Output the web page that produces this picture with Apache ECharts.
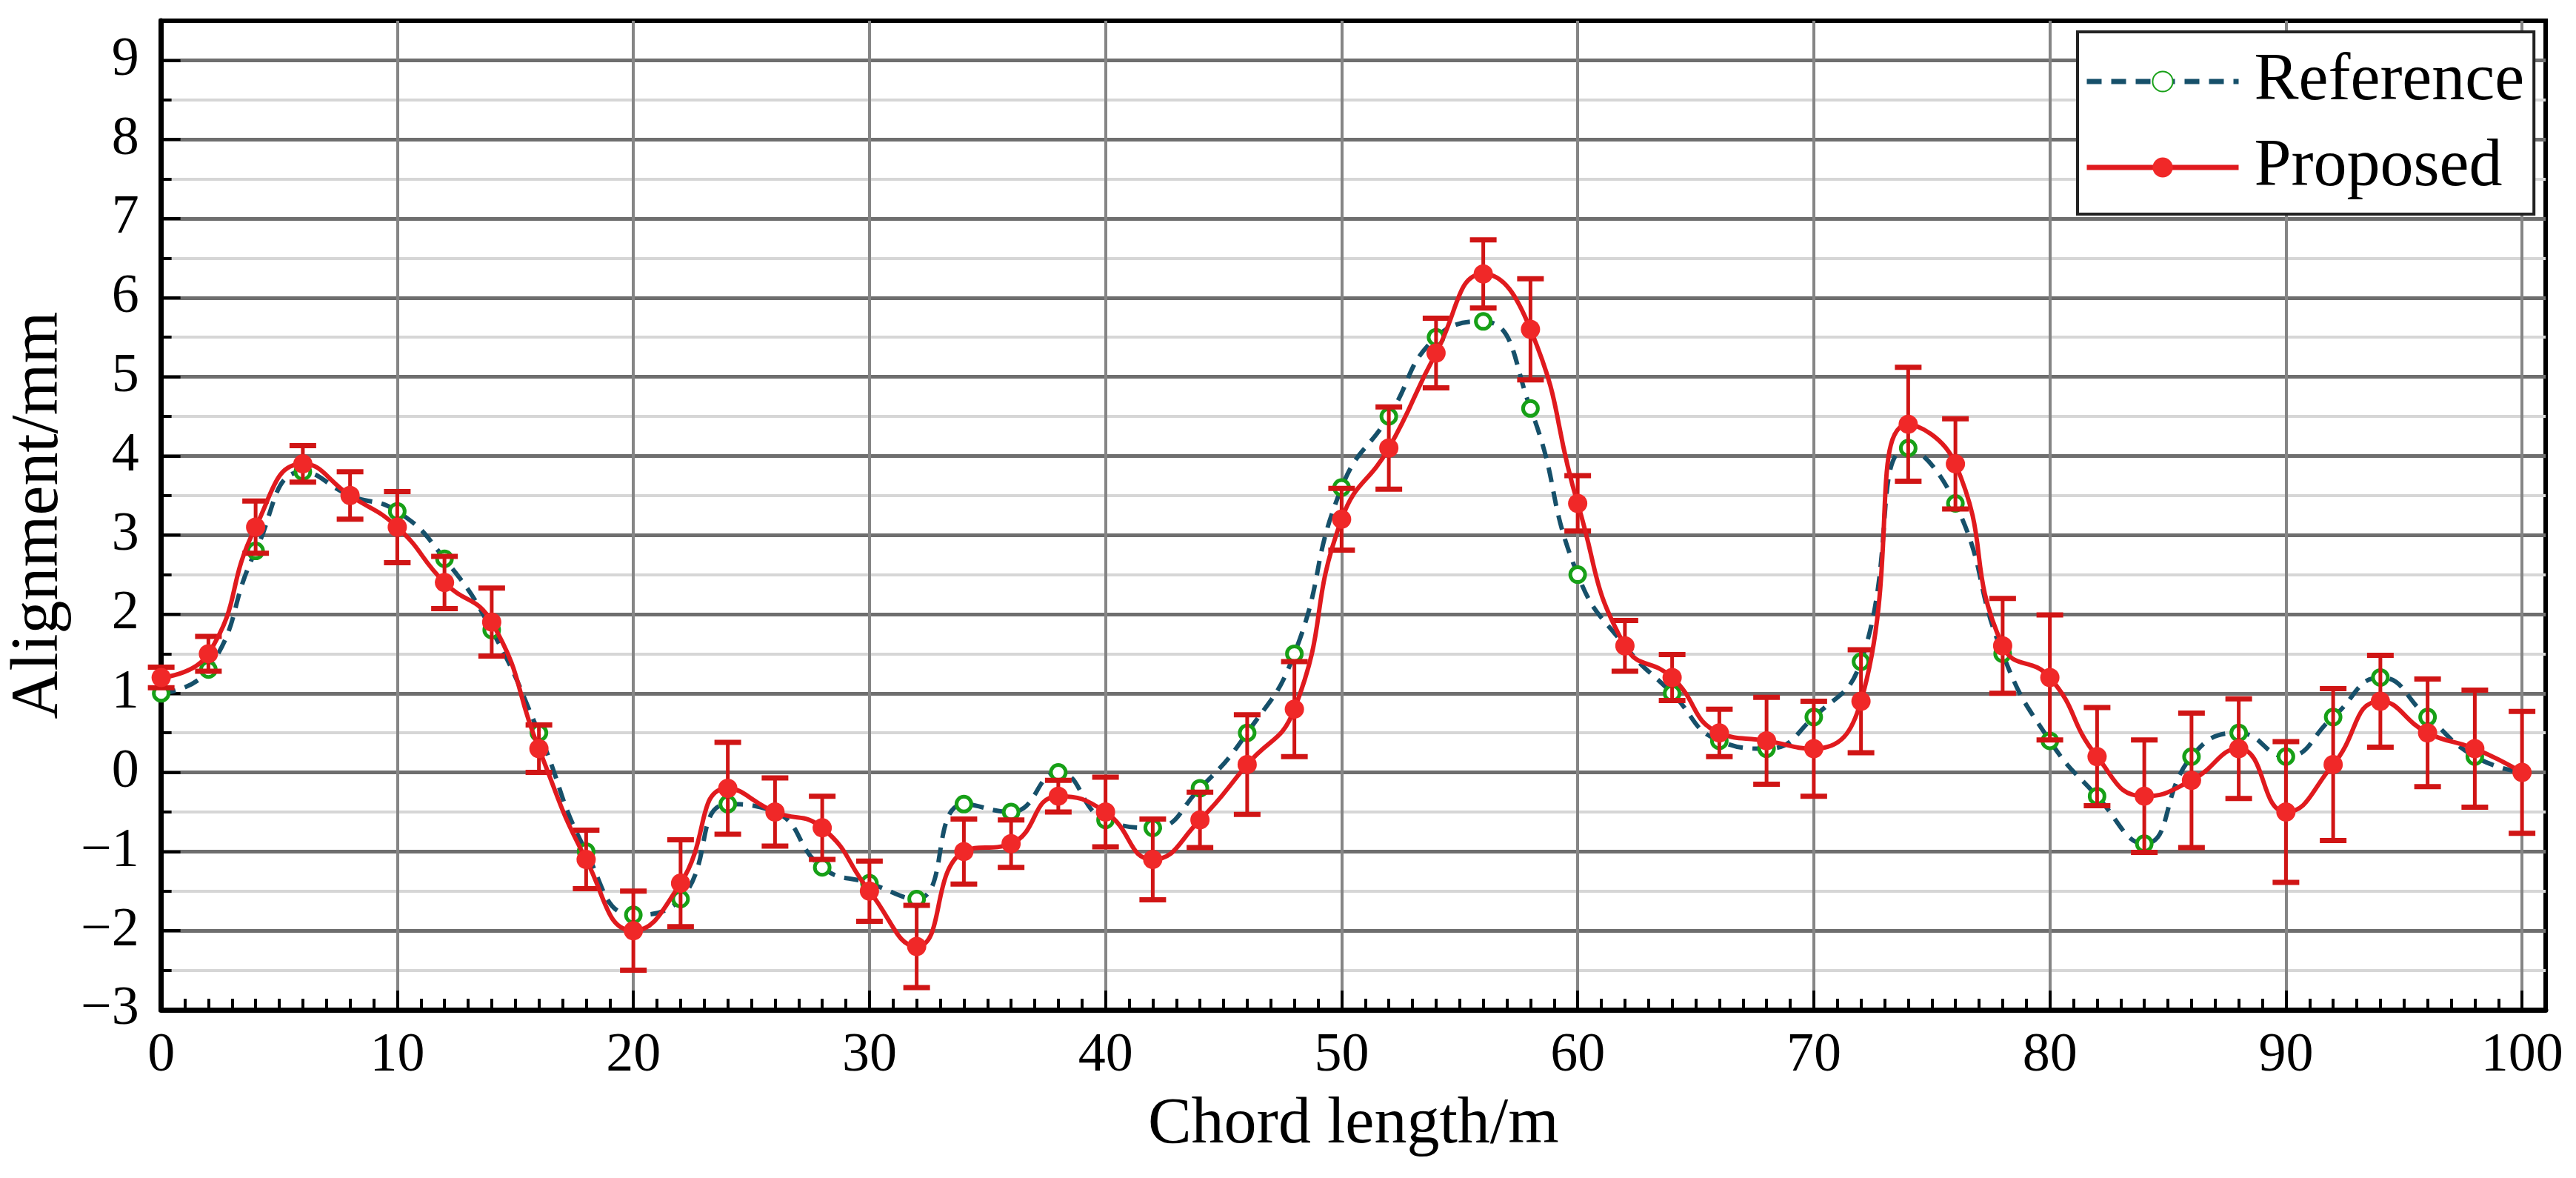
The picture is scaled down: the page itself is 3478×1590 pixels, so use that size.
<!DOCTYPE html>
<html>
<head>
<meta charset="utf-8">
<script src="https://cdn.jsdelivr.net/npm/echarts@6/dist/echarts.min.js"></script>
<style>
  html, body { margin: 0; padding: 0; background: #fff; }
  #chart { width: 3478px; height: 1590px; }
</style>
</head>
<body>
<div id="chart"></div>
<script>
// chord positions (m)
const chordLength = [0, 2, 4, 6, 8, 10, 12, 14, 16, 18, 20, 22, 24, 26, 28, 30, 32, 34, 36, 38, 40,
  42, 44, 46, 48, 50, 52, 54, 56, 58, 60, 62, 64, 66, 68, 70, 72, 74, 76, 78, 80,
  82, 84, 86, 88, 90, 92, 94, 96, 98, 100];

const referenceValues = [1.0, 1.3, 2.8, 3.8, 3.5, 3.3, 2.7, 1.8, 0.5, -1.0, -1.8, -1.6, -0.4, -0.5, -1.2, -1.4, -1.6, -0.4, -0.5, 0.0, -0.6,
  -0.7, -0.2, 0.5, 1.5, 3.6, 4.5, 5.5, 5.7, 4.6, 2.5, 1.6, 1.0, 0.4, 0.3, 0.7, 1.4, 4.1, 3.4, 1.5, 0.4,
  -0.3, -0.9, 0.2, 0.5, 0.2, 0.7, 1.2, 0.7, 0.2, 0.0];

const proposedValues = [1.2, 1.5, 3.1, 3.9, 3.5, 3.1, 2.4, 1.9, 0.3, -1.1, -2.0, -1.4, -0.2, -0.5, -0.7, -1.5, -2.2, -1.0, -0.9, -0.3, -0.5,
  -1.1, -0.6, 0.1, 0.8, 3.2, 4.1, 5.3, 6.3, 5.6, 3.4, 1.6, 1.2, 0.5, 0.4, 0.3, 0.9, 4.4, 3.9, 1.6, 1.2,
  0.2, -0.3, -0.1, 0.3, -0.5, 0.1, 0.9, 0.5, 0.3, 0.0];

// half length of the error bars of the proposed method
const proposedError = [0.13, 0.22, 0.33, 0.23, 0.30, 0.45, 0.33, 0.43, 0.30, 0.37, 0.50, 0.55, 0.58, 0.43, 0.40, 0.38, 0.52, 0.41, 0.30, 0.20, 0.44,
  0.51, 0.35, 0.63, 0.60, 0.39, 0.52, 0.44, 0.43, 0.64, 0.35, 0.32, 0.29, 0.30, 0.55, 0.60, 0.65, 0.72, 0.57, 0.60, 0.79,
  0.62, 0.71, 0.85, 0.63, 0.89, 0.96, 0.58, 0.68, 0.74, 0.77];

const FONT = 'Liberation Serif';
const RED = '#e01a1e';
const GREEN = '#17a017';

const chart = echarts.init(document.getElementById('chart'));

function minusSign(v) {
  return v < 0 ? '\u2212' + (-v) : String(v);
}

function renderErrorBar(params, api) {
  const x = api.value(0);
  const low = api.coord([x, api.value(1)]);
  const high = api.coord([x, api.value(2)]);
  const half = 18;
  const capStyle = { stroke: '#d01515', lineWidth: 7 };
  return {
    type: 'group',
    children: [
      { type: 'line', shape: { x1: low[0], y1: low[1], x2: high[0], y2: high[1] }, style: { stroke: '#d01515', lineWidth: 5 } },
      { type: 'line', shape: { x1: high[0] - half, y1: high[1], x2: high[0] + half, y2: high[1] }, style: capStyle },
      { type: 'line', shape: { x1: low[0] - half, y1: low[1], x2: low[0] + half, y2: low[1] }, style: capStyle }
    ]
  };
}

const option = {
  animation: false,
  backgroundColor: '#fff',
  grid: {
    left: 217, right: 41, top: 28, bottom: 227,
    show: true, borderColor: '#000', borderWidth: 6, backgroundColor: 'transparent'
  },
  legend: {
    data: ['Reference', 'Proposed'],
    left: 2805, top: 43,
    orient: 'vertical',
    backgroundColor: '#fff',
    borderColor: '#222', borderWidth: 4, borderRadius: 0,
    padding: [22, 13, 18, 9],
    itemGap: 26,
    itemWidth: 205, itemHeight: 34,
    lineStyle: { width: 7 },
    textStyle: { fontFamily: FONT, fontSize: 90, color: '#000', padding: [0, 0, 0, 16] }
  },
  xAxis: [
    {
      type: 'value', min: 0, max: 101, interval: 10, position: 'bottom',
      name: 'Chord length/m', nameLocation: 'middle', nameGap: 112,
      nameTextStyle: { fontFamily: FONT, fontSize: 88, color: '#000' },
      axisLine: { show: true, onZero: false, lineStyle: { color: '#000', width: 7 } },
      axisTick: { show: true, inside: true, length: 26, lineStyle: { color: '#000', width: 4 } },
      axisLabel: { fontFamily: FONT, fontSize: 74, color: '#000', margin: 26, showMaxLabel: false },
      splitLine: { show: true, showMinLine: false, showMaxLine: false, lineStyle: { color: '#858585', width: 4 } }
    },
    {
      type: 'value', min: 0, max: 101, interval: 1, position: 'bottom',
      axisLine: { show: false, onZero: false },
      axisTick: { show: true, inside: true, length: 15, lineStyle: { color: '#000', width: 4 } },
      axisLabel: { show: false },
      splitLine: { show: false }
    }
  ],
  yAxis: [
    {
      type: 'value', min: -3, max: 9.5, interval: 0.5, position: 'left',
      axisLine: { show: false, onZero: false },
      axisTick: { show: true, inside: true, length: 14, lineStyle: { color: '#000', width: 4 } },
      axisLabel: { show: false },
      splitLine: { show: true, showMinLine: false, showMaxLine: false, lineStyle: { color: '#d6d6d6', width: 4 } }
    },
    {
      type: 'value', min: -3, max: 9.5, interval: 1, position: 'left',
      name: 'Alignment/mm', nameLocation: 'middle', nameGap: 112, nameRotate: 90,
      nameTextStyle: { fontFamily: FONT, fontSize: 90, color: '#000' },
      axisLine: { show: true, onZero: false, lineStyle: { color: '#000', width: 7 } },
      axisTick: { show: true, inside: true, length: 26, lineStyle: { color: '#000', width: 4 } },
      axisLabel: { fontFamily: FONT, fontSize: 74, color: '#000', margin: 30, showMaxLabel: false, formatter: minusSign },
      splitLine: { show: true, showMinLine: false, showMaxLine: false, lineStyle: { color: '#6e6e6e', width: 5 } }
    }
  ],
  series: [
    {
      name: 'Reference', type: 'line', xAxisIndex: 0, yAxisIndex: 1,
      data: chordLength.map((x, i) => [x, referenceValues[i]]),
      smooth: 0.5,
      symbol: 'circle', symbolSize: 20,
      lineStyle: { color: '#16506a', width: 6, type: [20, 13] },
      itemStyle: { color: '#fff', borderColor: GREEN, borderWidth: 5 },
      z: 2
    },
    {
      name: 'error', type: 'custom', xAxisIndex: 0, yAxisIndex: 1,
      data: chordLength.map((x, i) => [x, proposedValues[i] - proposedError[i], proposedValues[i] + proposedError[i]]),
      encode: { x: 0, y: [1, 2] },
      renderItem: renderErrorBar,
      z: 3
    },
    {
      name: 'Proposed', type: 'line', xAxisIndex: 0, yAxisIndex: 1,
      data: chordLength.map((x, i) => [x, proposedValues[i]]),
      smooth: 0.5,
      symbol: 'circle', symbolSize: 26,
      lineStyle: { color: RED, width: 6 },
      itemStyle: { color: '#f02828' },
      z: 4
    }
  ]
};

chart.setOption(option);
</script>
</body>
</html>
